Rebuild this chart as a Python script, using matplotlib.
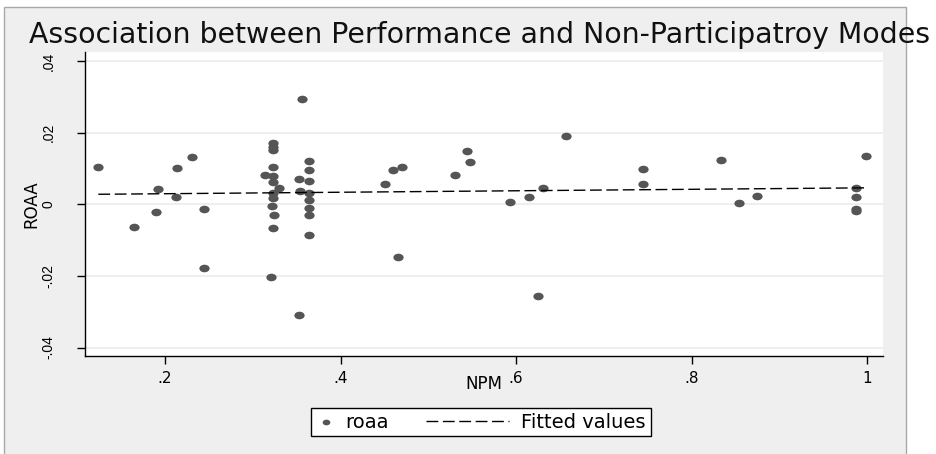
import numpy as np
import matplotlib
matplotlib.use("Agg")
import matplotlib.pyplot as plt
from matplotlib.markers import MarkerStyle
from matplotlib.transforms import Affine2D
from matplotlib.patches import Rectangle
from matplotlib.lines import Line2D
from matplotlib.legend_handler import HandlerLine2D

# data
npm = [0.124, 0.165, 0.192, 0.190, 0.214, 0.213, 0.231, 0.244, 0.244,
       0.323, 0.323, 0.323, 0.323, 0.314, 0.323, 0.323, 0.330, 0.323,
       0.323, 0.322, 0.324, 0.323, 0.321,
       0.356, 0.353, 0.353, 0.354,
       0.364, 0.364, 0.364, 0.364, 0.364, 0.364, 0.364, 0.364,
       0.451, 0.460, 0.470, 0.466, 0.530, 0.544, 0.548, 0.593, 0.615,
       0.631, 0.625, 0.657, 0.745, 0.745,
       0.834, 0.854, 0.875, 0.988, 0.988, 0.988, 0.988, 0.999]
roaa = [0.0105, -0.0063, 0.0043, -0.0022, 0.0101, 0.0021, 0.0133, -0.0012, -0.0179,
        0.0170, 0.0160, 0.0152, 0.0105, 0.0082, 0.0080, 0.0063, 0.0046, 0.0032,
        0.0017, -0.0004, -0.0030, -0.0067, -0.0202,
        0.0293, -0.0309, 0.0070, 0.0037,
        0.0122, 0.0096, 0.0066, 0.0031, 0.0012, -0.0011, -0.0030, -0.0086,
        0.0056, 0.0096, 0.0103, -0.0146, 0.0082, 0.0150, 0.0119, 0.0007, 0.0020,
        0.0046, -0.0256, 0.0191, 0.0098, 0.0056,
        0.0124, 0.0003, 0.0024, 0.0045, 0.0020, -0.0013, -0.0020, 0.0135]
fit_x = [0.124, 0.999]
fit_y = [0.0028, 0.0046]

xticks = [0.2, 0.4, 0.6, 0.8, 1.0]
xlabels = ['.2', '.4', '.6', '.8', '1']
yticks = [-0.04, -0.02, 0, 0.02, 0.04]
ylabels = ['-.04', '-.02', '0', '.02', '.04']

title = 'Association between Performance and Non-Participatroy Modes'


class WideDash(HandlerLine2D):
    "dashed handle that reaches back into the column gap"
    def create_artists(self, legend, orig_handle, xdescent, ydescent,
                       width, height, fontsize, trans):
        y = (height - ydescent) / 2
        ln = Line2D([-xdescent - 47.5, width - xdescent - 1.5], [y, y])
        self.update_prop(ln, orig_handle, legend)
        ln.set_transform(trans)
        return [ln]


W, H = 937, 454
fig = plt.figure(figsize=(W / 100, H / 100), dpi=100, facecolor='white')

# grey graph region with thin border
fig.patches.append(Rectangle((4 / W, -0.01), (906 - 4) / W, (H - 7) / H + 0.01,
                             transform=fig.transFigure, facecolor='#efefef',
                             edgecolor='#a8a8a8', linewidth=1.0, zorder=-10))

ax = fig.add_axes([85 / W, (H - 356) / H, (883 - 85) / W, (356 - 52) / H])
ax.set_facecolor('white')

for yv in yticks:
    ax.axhline(yv, color='#e9e9e9', lw=1.1, zorder=0)

mk = MarkerStyle('o', transform=Affine2D().scale(1.35, 1.0))
pts = ax.scatter(npm, roaa, s=30, marker=mk, color='#555555',
                 linewidths=0, zorder=3, label='roaa')
fit, = ax.plot(fit_x, fit_y, color='black', lw=1.0, dashes=(8.5, 3.3),
               zorder=4, label='Fitted values')

ax.set_xlim(0.1088, 1.0182)
ax.set_ylim(-0.04237, 0.04254)

ax.spines['top'].set_visible(False)
ax.spines['right'].set_visible(False)
ax.spines['left'].set_linewidth(1.0)
ax.spines['bottom'].set_linewidth(1.0)

ax.set_xticks(xticks)
ax.set_xticklabels(xlabels, fontsize=11, family='DejaVu Sans')
ax.set_yticks(yticks)
ax.set_yticklabels(ylabels, fontsize=10, family='Liberation Sans', rotation=90,
                   va='center')
ax.tick_params(axis='x', length=6, width=1, pad=5)
ax.tick_params(axis='y', length=6, width=1, pad=15)

ax.set_xlabel('NPM', fontsize=12, family='DejaVu Sans', labelpad=-8)
ax.set_ylabel('ROAA', fontsize=12, family='DejaVu Sans', labelpad=1)

fig.text(480 / W, (H - 43) / H, title, fontsize=20.4, family='DejaVu Sans',
         ha='center', va='baseline', color='#111111')

leg = ax.legend([pts, fit], ['roaa', 'Fitted values'], ncol=2,
                loc='center', bbox_to_anchor=(481 / W, (H - 422) / H),
                bbox_transform=fig.transFigure, handler_map={fit: WideDash()},
                prop={'family': 'DejaVu Sans', 'size': 14},
                handlelength=1.0, handletextpad=0.5, columnspacing=5.3,
                borderpad=0.25, scatterpoints=1, markerscale=0.75,
                fancybox=False, framealpha=1, edgecolor='black')
leg.get_frame().set_linewidth(1.0)

fig.savefig('out.png', dpi=100, facecolor='white')
